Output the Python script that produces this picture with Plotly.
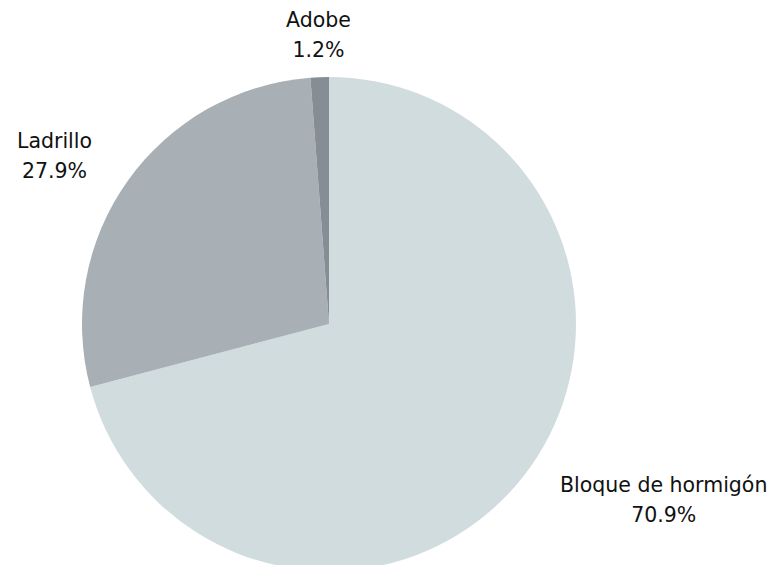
import math
import plotly.graph_objects as go

# Construction material shares
materials = ["Bloque de hormigón", "Ladrillo", "Adobe"]
shares = [70.9, 27.9, 1.2]
colors = ["#d1dcdf", "#a8b0b6", "#878d94"]

W, H = 772, 648
cx, cy, r = 329, 324, 247
label_factor = 1.17
text_px = 20.5
# the outer size sets the line spacing, the inner span sets the glyph size
label_font = dict(family="DejaVu Sans, sans-serif", size=23, color="#111111")

fig = go.Figure(
    go.Pie(
        labels=materials,
        values=shares,
        sort=False,
        direction="clockwise",
        rotation=0,
        marker=dict(colors=colors, line=dict(width=0)),
        textinfo="none",
        hoverinfo="label+percent",
        showlegend=False,
        domain=dict(x=[(cx - r) / W, (cx + r) / W], y=[1 - (cy + r) / H, 1 - (cy - r) / H]),
    )
)

# Outside labels placed along each slice's mid-angle
total = sum(shares)
cum = 0.0
for name, val in zip(materials, shares):
    mid = (cum + val / 2) / total * 2 * math.pi
    cum += val
    dx = math.sin(mid)
    dy = math.cos(mid)
    px = cx + label_factor * r * dx
    py = cy - label_factor * r * dy
    if abs(dx) < 0.2:
        xanchor = "center"
    elif dx > 0:
        xanchor = "left"
    else:
        xanchor = "right"
    fig.add_annotation(
        x=px / W,
        y=1 - py / H,
        xref="paper",
        yref="paper",
        text=(f"<span style='font-size:{text_px}px'>{name}</span><br>"
              f"<span style='font-size:{text_px}px'>{val:.1f}%</span>"),
        showarrow=False,
        xanchor=xanchor,
        yanchor="middle",
        align="center",
        font=label_font,
    )

fig.update_layout(
    width=W,
    height=H,
    margin=dict(l=0, r=0, t=0, b=0),
    paper_bgcolor="white",
    plot_bgcolor="white",
)

fig.write_html("out.html", post_script="document.body.style.overflow='hidden';document.body.style.margin='0';")
